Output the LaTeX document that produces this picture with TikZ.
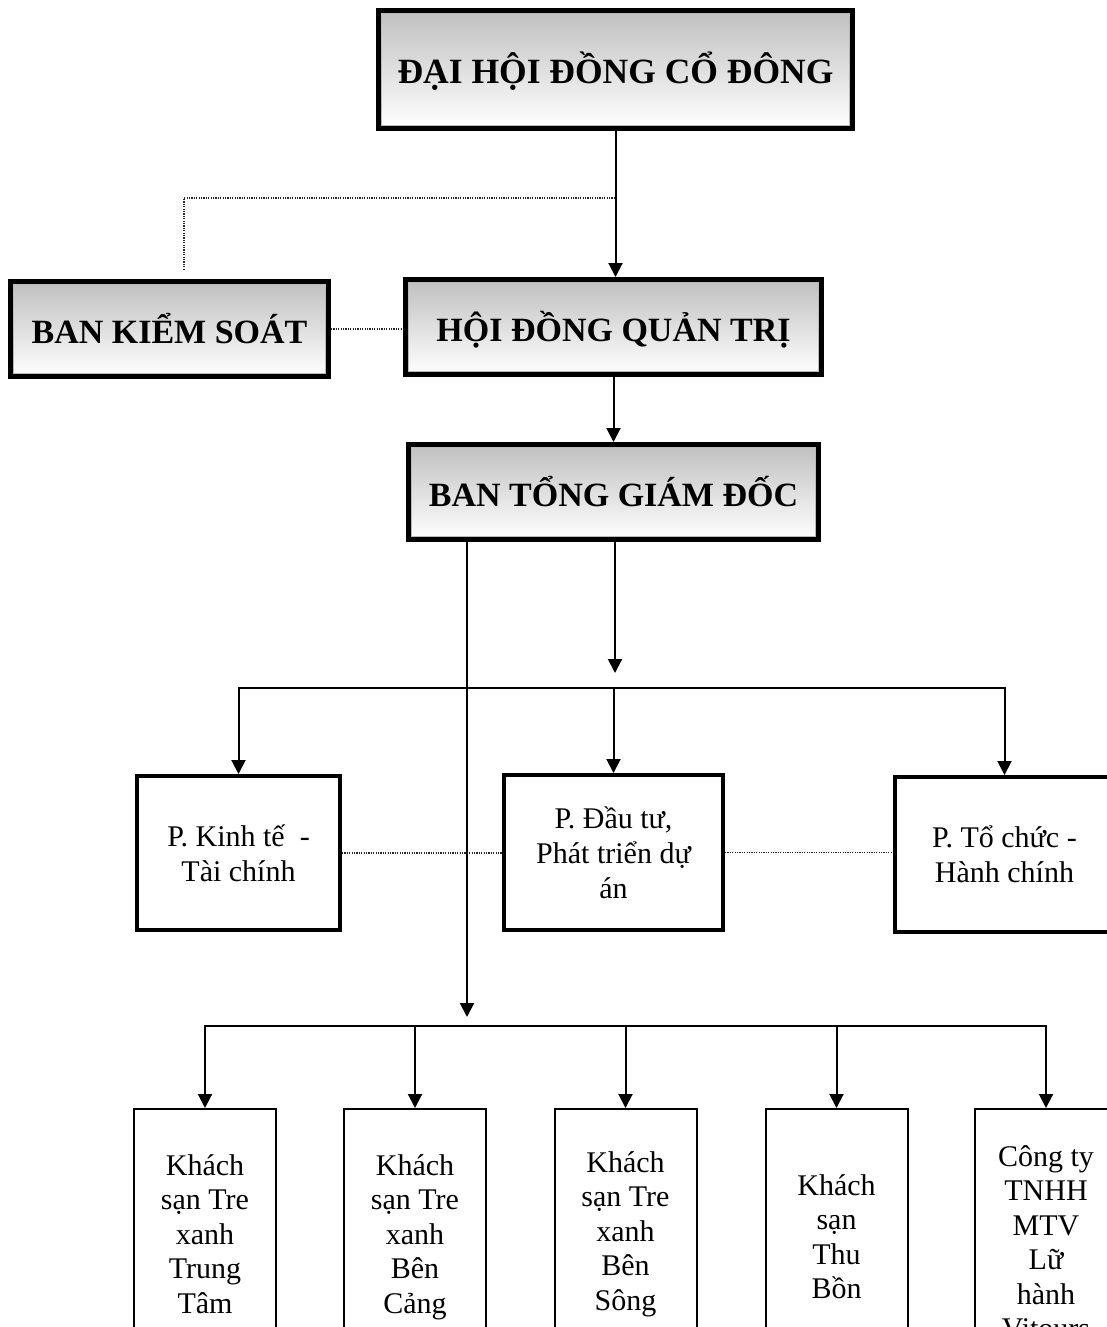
\documentclass[tikz,border=0pt]{standalone}
\usepackage{fontspec}
\setmainfont{Liberation Serif}
\usetikzlibrary{arrows.meta,calc}
\begin{document}
\begin{tikzpicture}[x=1pt,y=-1pt,
  hdr/.style={draw, line width=5pt, top color=gray!50, bottom color=white, font=\fontsize{34}{40}\selectfont\bfseries, inner sep=0pt, text height=28pt, text depth=0pt},
  dept/.style={draw, line width=4pt, fill=white, align=flush center, font=\fontsize{30}{35}\selectfont, inner sep=0pt},
  unitbox/.style={draw, line width=2pt, inner sep=0pt},
  utext/.style={align=flush center, font=\fontsize{30}{34.5}\selectfont, inner sep=0pt, anchor=base, text width=140pt},
  conn/.style={line width=2pt, line cap=rect},
  arr/.style={line width=2pt, -{Triangle[width=14pt,length=14pt]}},
  dotl/.style={line width=1.2pt, dash pattern=on 1.2pt off 1.2pt, black!85},
]
\useasboundingbox (0,0) rectangle (1107,1327);
\clip (0,0) rectangle (1107,1327);

% header boxes
\node[hdr, minimum width=474pt, minimum height=118pt, font=\fontsize{35.5}{40}\selectfont\bfseries] (dh) at (615.5,69.5) {ĐẠI HỘI ĐỒNG CỔ ĐÔNG};
\node[hdr, minimum width=318pt, minimum height=95pt] (bks) at (169.5,329) {BAN KIỂM SOÁT};
\node[hdr, minimum width=416pt, minimum height=95pt] (hd) at (613.5,327) {HỘI ĐỒNG QUẢN TRỊ};
\node[hdr, minimum width=410pt, minimum height=95pt] (tgd) at (613.5,492) {BAN TỔNG GIÁM ĐỐC};
\foreach \n in {dh,bks,hd,tgd}{
  \draw[gray!55, line width=1pt] ($(\n.north west)+(5.5,5.5)$) rectangle ($(\n.south east)+(-5.5,-5.5)$);
}

% departments
\node[dept, minimum width=203pt, minimum height=154pt] (p1) at (238.5,853) {P. Kinh tế\ \ -\\Tài chính};
\node[dept, minimum width=219pt, minimum height=155pt] (p2) at (613.5,852.5) {P. Đầu tư,\\Phát triển dự\\án};
\node[dept, minimum width=219pt, minimum height=155pt] (p3) at (1004.5,854.5) {P. Tổ chức -\\Hành chính};

% units
\node[unitbox, minimum width=142pt, minimum height=271pt] (u1) at (205,1244.5) {};
\node[unitbox, minimum width=142pt, minimum height=271pt] (u2) at (415,1244.5) {};
\node[unitbox, minimum width=142pt, minimum height=271pt] (u3) at (625.5,1244.5) {};
\node[unitbox, minimum width=142pt, minimum height=271pt] (u4) at (836.5,1244.5) {};
\node[unitbox, minimum width=142pt, minimum height=271pt] (u5) at (1046,1244.5) {};
\node[utext] (t1) at (205,1175) {Khách\\sạn Tre\\xanh\\Trung\\Tâm};
\node[utext] (t2) at (415,1175) {Khách\\sạn Tre\\xanh\\Bên\\Cảng};
\node[utext] (t3) at (625.5,1172) {Khách\\sạn Tre\\xanh\\Bên\\Sông};
\node[utext] (t4) at (836.5,1195) {Khách\\sạn\\Thu\\Bồn};
\node[utext] (t5) at (1046,1166) {Công ty\\TNHH\\MTV\\Lữ\\hành\\Vitours};

% connectors
\coordinate (dj) at (615,198);
\coordinate (dk) at (184,270);
\draw[dotl] (dj) -| (dk);
\draw[dotl] (bks.east) -- (bks.east -| hd.west);
\draw[arr] (dh.south) -- (dh.south |- hd.north);
\draw[arr] (hd.south) -- (hd.south |- tgd.north);

\coordinate (b1) at (615,673);
\coordinate (b2) at (467,1017);
\draw[arr] (tgd.south -| b1) -- (b1);
\draw[arr] (tgd.south -| b2) -- (b2);

\coordinate (bus1) at (0,688);
\draw[conn] (p1.north |- bus1) -- (p3.north |- bus1);
\foreach \n in {p1,p2,p3}{\draw[arr] (\n.north |- bus1) -- (\n.north);}
\draw[dotl] (p1.east) -- (p1.east -| p2.west);
\draw[dotl] (p2.east) -- (p2.east -| p3.west);

\coordinate (bus2) at (0,1026);
\draw[conn] (u1.north |- bus2) -- (u5.north |- bus2);
\foreach \n in {u1,u2,u3,u4,u5}{\draw[arr] (\n.north |- bus2) -- (\n.north);}
\end{tikzpicture}
\end{document}
